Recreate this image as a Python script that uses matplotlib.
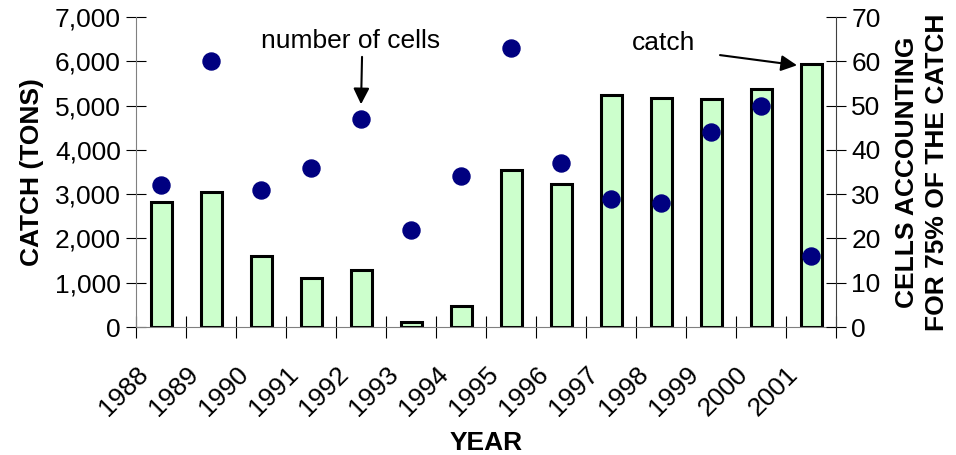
import matplotlib.pyplot as plt
import numpy as np

plt.rcParams['font.family'] = ['Liberation Sans', 'DejaVu Sans']

years = ['1988', '1989', '1990', '1991', '1992', '1993', '1994',
         '1995', '1996', '1997', '1998', '1999', '2000', '2001']
catch = [2830, 3050, 1600, 1110, 1290, 110, 480,
         3550, 3230, 5240, 5170, 5150, 5380, 5940]
cells = [32, 60, 31, 36, 47, 22, 34, 63, 37, 29, 28, 44, 50, 16]

fs = 19
fig = plt.figure(figsize=(9.56, 4.55), dpi=100)
ax = fig.add_axes([0.1423, 0.2813, 0.7322, 0.6813])
ax2 = ax.twinx()

x = np.arange(len(years)) + 0.5
ax.bar(x, catch, width=0.42, color='#ccffcc', edgecolor='black', linewidth=2.2, zorder=2)
ax2.scatter(x, cells, s=150, color='#000080', zorder=3)

ax.set_xlim(0, len(years))
ax.set_ylim(0, 7000)
ax2.set_ylim(0, 70)
ax.set_yticks(np.arange(0, 7001, 1000))
ax.set_yticklabels(['{:,}'.format(v) for v in range(0, 7001, 1000)])
ax2.set_yticks(np.arange(0, 71, 10))
ax.set_xticks(np.arange(len(years) + 1))
ax.set_xticklabels(years + [''], rotation=45, ha='right', va='top',
                   rotation_mode='anchor')

for a in (ax, ax2):
    a.spines['top'].set_visible(False)
ax.spines['left'].set_color('#808080')
ax.spines['bottom'].set_color('#808080')
ax.spines['right'].set_visible(False)
ax2.spines['left'].set_visible(False)
ax2.spines['bottom'].set_visible(False)
ax2.spines['right'].set_color('#404040')

ax.tick_params(axis='y', direction='inout', length=14, labelsize=fs, pad=4)
ax.tick_params(axis='x', direction='inout', length=16, labelsize=fs, pad=17)
ax2.tick_params(axis='y', direction='inout', length=14, labelsize=fs, pad=4)

ax.set_ylabel('CATCH (TONS)', fontsize=fs, fontweight='bold', labelpad=8)
ax.set_xlabel('YEAR', fontsize=fs, fontweight='bold', labelpad=8)
ax2.set_ylabel('CELLS ACCOUNTING\nFOR 75% OF THE CATCH', fontsize=fs,
               fontweight='bold', rotation=90, labelpad=10, linespacing=1.35)

ax2.text(4.3, 63, 'number of cells', ha='center', va='baseline', fontsize=fs)
ax2.annotate('', xy=(4.5, 50.3), xytext=(4.52, 61),
             arrowprops=dict(arrowstyle='-|>', color='black', lw=1.5,
                             mutation_scale=24, shrinkA=0, shrinkB=0))
ax2.text(10.56, 62.5, 'catch', ha='center', va='baseline', fontsize=fs)
ax2.annotate('', xy=(13.22, 59.1), xytext=(11.68, 61.4),
             arrowprops=dict(arrowstyle='-|>', color='black', lw=1.5,
                             mutation_scale=24, shrinkA=0, shrinkB=0))

fig.savefig('out.png', dpi=100)
